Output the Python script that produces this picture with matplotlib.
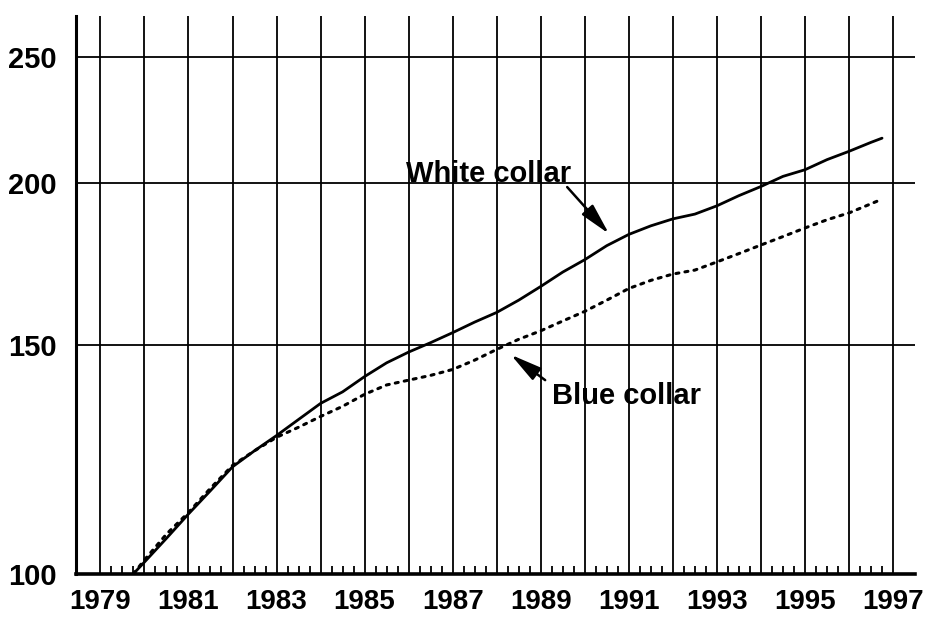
import matplotlib
matplotlib.use("Agg")
import matplotlib.pyplot as plt
import numpy as np
from matplotlib.ticker import FixedLocator, NullLocator

# index values (1979 Q4 = 100), half-year steps
years = [1979.75, 1980.0, 1980.5, 1981.0, 1981.5, 1982.0, 1982.5, 1983.0, 1983.5,
         1984.0, 1984.5, 1985.0, 1985.5, 1986.0, 1986.5, 1987.0, 1987.5, 1988.0,
         1988.5, 1989.0, 1989.5, 1990.0, 1990.5, 1991.0, 1991.5, 1992.0, 1992.5,
         1993.0, 1993.5, 1994.0, 1994.5, 1995.0, 1995.5, 1996.0, 1996.5, 1996.75]
white_collar = [100.0, 102.1, 106.5, 111.2, 115.9, 120.9, 124.4, 127.8, 131.5,
                135.3, 138.1, 141.9, 145.4, 148.2, 150.7, 153.4, 156.3, 159.0,
                162.5, 166.5, 170.8, 174.6, 179.0, 182.6, 185.4, 187.7, 189.3,
                192.1, 195.6, 198.8, 202.4, 204.8, 208.5, 211.6, 215.0, 216.6]
blue_collar = [100.0, 102.5, 107.3, 111.5, 116.4, 121.2, 124.4, 127.4, 129.7,
               132.2, 134.6, 137.5, 139.8, 141.0, 142.2, 143.7, 146.1, 148.9,
               151.6, 153.9, 156.6, 159.3, 162.5, 165.9, 168.3, 170.2, 171.4,
               173.9, 176.5, 179.2, 181.9, 184.7, 187.4, 189.7, 192.8, 194.4]

year_ticks = list(range(1979, 1998))
year_labels = [str(y) if y % 2 == 1 else "" for y in year_ticks]
y_ticks = [100, 150, 200, 250]

font = "Liberation Sans"
fs = 20

fig = plt.figure(figsize=(9.29, 6.17), dpi=100)
ax = fig.add_axes([0.082, 0.07, 0.903, 0.904])

ax.plot(years, white_collar, color="black", lw=2.0, solid_capstyle="round")
ax.plot(years, blue_collar, color="black", lw=2.2, linestyle=(0, (1, 2)),
        dash_capstyle="round")

ax.set_yscale("log")
ax.set_ylim(100, 269)
ax.set_xlim(1978.45, 1997.5)

ax.yaxis.set_major_locator(FixedLocator(y_ticks))
ax.yaxis.set_minor_locator(NullLocator())
ax.set_yticklabels([str(v) for v in y_ticks], fontsize=fs + 1, fontweight="bold",
                   family=font)

ax.xaxis.set_major_locator(FixedLocator(year_ticks))
ax.set_xticklabels(year_labels, fontsize=fs, fontweight="bold", family=font)
quarters = [y + q for y in range(1979, 1997) for q in (0.25, 0.5, 0.75)]
ax.xaxis.set_minor_locator(FixedLocator(quarters))

ax.tick_params(axis="y", which="major", length=0, pad=14)
ax.tick_params(axis="x", which="major", length=0, pad=11)
ax.tick_params(axis="x", which="minor", direction="in", length=6, width=1.3)

ax.grid(True, axis="both", which="major", color="black", lw=1.3)
ax.set_axisbelow(True)

for s in ("top", "right"):
    ax.spines[s].set_visible(False)
ax.spines["left"].set_linewidth(2.2)
ax.spines["bottom"].set_linewidth(2.6)

# labels with arrows
arrow = dict(arrowstyle="-|>,head_length=1.9,head_width=0.45",
             color="black", lw=1.8, shrinkA=0, shrinkB=0)
ax.text(1985.95, 200.4, "White collar", fontsize=fs + 1, fontweight="bold",
        family=font, va="baseline", ha="left")
ax.annotate("", xy=(1990.55, 182.8), xytext=(1989.6, 198.6), arrowprops=arrow)
ax.text(1989.25, 135.2, "Blue collar", fontsize=fs + 1, fontweight="bold",
        family=font, va="baseline", ha="left")
ax.annotate("", xy=(1988.32, 147.5), xytext=(1989.1, 141.0), arrowprops=arrow)

fig.savefig("out.png", dpi=100)
